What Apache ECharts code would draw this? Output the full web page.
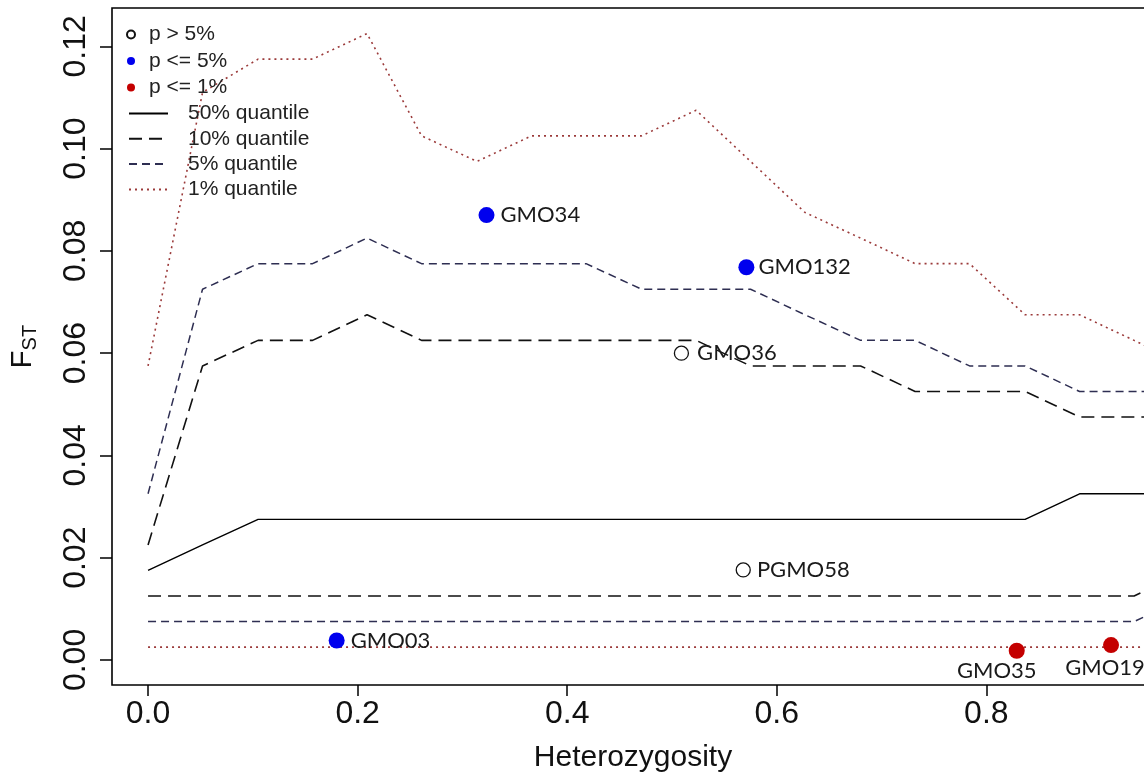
<!DOCTYPE html>
<html>
<head>
<meta charset="utf-8">
<title>FST outlier test</title>
<script src="https://cdn.jsdelivr.net/npm/echarts@6/dist/echarts.min.js"></script>
<style>
  html, body { margin: 0; padding: 0; background: #fff; }
  #chart { width: 1144px; height: 773px; }
</style>
</head>
<body>
<div id="chart"></div>
<script>
// Heterozygosity bins where the simulated FST quantiles were evaluated
const hetBins = [0, 0.052, 0.105, 0.157, 0.209, 0.261, 0.314, 0.366, 0.418, 0.471,
                 0.523, 0.575, 0.627, 0.680, 0.732, 0.784, 0.837, 0.889, 0.941, 0.993];

// Upper quantile envelopes
const q50Upper = [0.0175, 0.0225, 0.0275, 0.0275, 0.0275, 0.0275, 0.0275, 0.0275, 0.0275, 0.0275,
                  0.0275, 0.0275, 0.0275, 0.0275, 0.0275, 0.0275, 0.0275, 0.0325, 0.0325, 0.0325];
const q10Upper = [0.0225, 0.0575, 0.0625, 0.0625, 0.0675, 0.0625, 0.0625, 0.0625, 0.0625, 0.0625,
                  0.0625, 0.0575, 0.0575, 0.0575, 0.0525, 0.0525, 0.0525, 0.0475, 0.0475, 0.0475];
const q5Upper  = [0.0325, 0.0725, 0.0775, 0.0775, 0.0825, 0.0775, 0.0775, 0.0775, 0.0775, 0.0725,
                  0.0725, 0.0725, 0.0675, 0.0625, 0.0625, 0.0575, 0.0575, 0.0525, 0.0525, 0.0525];
const q1Upper  = [0.0575, 0.1110, 0.1175, 0.1175, 0.1225, 0.1025, 0.0975, 0.1025, 0.1025, 0.1025,
                  0.1075, 0.0975, 0.0875, 0.0825, 0.0775, 0.0775, 0.0675, 0.0675, 0.0625, 0.0575];

// Lower quantile envelopes
const q10Lower = [0.0125, 0.0125, 0.0125, 0.0125, 0.0125, 0.0125, 0.0125, 0.0125, 0.0125, 0.0125,
                  0.0125, 0.0125, 0.0125, 0.0125, 0.0125, 0.0125, 0.0125, 0.0125, 0.0125, 0.0175];
const q5Lower  = [0.0075, 0.0075, 0.0075, 0.0075, 0.0075, 0.0075, 0.0075, 0.0075, 0.0075, 0.0075,
                  0.0075, 0.0075, 0.0075, 0.0075, 0.0075, 0.0075, 0.0075, 0.0075, 0.0075, 0.0125];
const q1Lower  = [0.0025, 0.0025, 0.0025, 0.0025, 0.0025, 0.0025, 0.0025, 0.0025, 0.0025, 0.0025,
                  0.0025, 0.0025, 0.0025, 0.0025, 0.0025, 0.0025, 0.0025, 0.0025, 0.0025, 0.0025];

// Observed loci
const lociNames = ['GMO34', 'GMO132', 'GMO36', 'PGMO58', 'GMO03', 'GMO35', 'GMO19'];
const lociHet   = [0.323, 0.571, 0.509, 0.568, 0.180, 0.829, 0.919];
const lociFst   = [0.0870, 0.0768, 0.0600, 0.0176, 0.0038, 0.0018, 0.0029];
const lociClass = ['p <= 5%', 'p <= 5%', 'p > 5%', 'p > 5%', 'p <= 5%', 'p <= 1%', 'p <= 1%'];

// Axis ticks
const xTicks = [0, 0.2, 0.4, 0.6, 0.8];
const yTicks = [0, 0.02, 0.04, 0.06, 0.08, 0.10, 0.12];

const SANS = '"Liberation Sans", Arial, sans-serif';
const LABEL_FONT = 'Lato, "Open Sans", sans-serif';

// where each locus name sits relative to its point
const labelPlacement = {
  GMO35: { position: 'bottom', distance: 1, offset: [-20, 0] },
  GMO19: { position: 'bottom', distance: 4, offset: [-6, 0] },
  GMO36: { position: 'right', distance: 8 },
  GMO132: { position: 'right', distance: 4 },
  default: { position: 'right', distance: 6 }
};

function pairs(xs, ys) { return xs.map((x, i) => [x, ys[i]]); }

function lociOf(cls) {
  const out = [];
  lociNames.forEach((n, i) => {
    if (lociClass[i] !== cls) return;
    const p = labelPlacement[n] || labelPlacement.default;
    out.push({ name: n, value: [lociHet[i], lociFst[i]], label: Object.assign({}, p) });
  });
  return out;
}

const pointLabel = {
  show: true,
  formatter: '{b}',
  fontFamily: LABEL_FONT,
  fontSize: 22,
  color: '#1a1a1a'
};

const quantiles = [
  { name: '50% quantile', upper: q50Upper, lower: null, color: '#000000', type: 'solid', width: 1.4 },
  { name: '10% quantile', upper: q10Upper, lower: q10Lower, color: '#111111', type: [13, 7], width: 1.6 },
  { name: '5% quantile',  upper: q5Upper,  lower: q5Lower,  color: '#2e2e52', type: [8, 5], width: 1.5 },
  { name: '1% quantile',  upper: q1Upper,  lower: q1Lower,  color: '#9b3a3a', type: [2, 4], width: 1.6 }
];

const series = [];
quantiles.forEach(q => {
  const base = {
    type: 'line',
    name: q.name,
    symbol: 'none',
    smooth: false,
    clip: true,
    silent: true,
    z: 2,
    lineStyle: { color: q.color, type: q.type, width: q.width },
    itemStyle: { color: q.color }
  };
  series.push(Object.assign({}, base, { data: pairs(hetBins, q.upper) }));
  if (q.lower) series.push(Object.assign({}, base, { data: pairs(hetBins, q.lower) }));
});

series.push({
  type: 'scatter', name: 'p > 5%', symbol: 'circle', symbolSize: 14, z: 5,
  itemStyle: { color: 'rgba(255,255,255,0)', borderColor: '#111', borderWidth: 1.3, opacity: 1 },
  label: pointLabel, data: lociOf('p > 5%')
});
series.push({
  type: 'scatter', name: 'p <= 5%', symbol: 'circle', symbolSize: 16, z: 5,
  itemStyle: { color: '#0000ee', opacity: 1 },
  label: pointLabel, data: lociOf('p <= 5%')
});
series.push({
  type: 'scatter', name: 'p <= 1%', symbol: 'circle', symbolSize: 16, z: 5,
  itemStyle: { color: '#c40000', opacity: 1 },
  label: pointLabel, data: lociOf('p <= 1%')
});

const legendText = { fontFamily: SANS, fontSize: 21, color: '#222' };

const option = {
  animation: false,
  backgroundColor: '#ffffff',
  grid: {
    left: 112, top: 8, width: 1042, height: 677,
    outerBoundsMode: 'none',
    containLabel: false,
    show: true, borderColor: '#000', borderWidth: 1.6, backgroundColor: 'transparent'
  },
  legend: [
    {
      data: ['p > 5%', 'p <= 5%', 'p <= 1%'],
      orient: 'vertical', left: 126, top: 24, padding: 0,
      itemWidth: 8, itemHeight: 8, itemGap: 5.5,
      selectedMode: false,
      textStyle: Object.assign({ padding: [0, 0, 0, 9] }, legendText)
    },
    {
      data: ['50% quantile', '10% quantile', '5% quantile', '1% quantile'],
      orient: 'vertical', left: 128, top: 103, padding: 0,
      itemWidth: 39, itemHeight: 14, itemGap: 4.3,
      selectedMode: false,
      itemStyle: { color: 'rgba(0,0,0,0)', borderWidth: 0, opacity: 0 },
      textStyle: Object.assign({ padding: [0, 0, 0, 15] }, legendText)
    }
  ],
  xAxis: {
    type: 'value',
    min: -0.0344, max: 0.960,
    name: 'Heterozygosity',
    nameLocation: 'middle',
    nameGap: 58,
    nameTextStyle: { fontFamily: SANS, fontSize: 30, color: '#111' },
    axisLine: { show: false, onZero: false },
    splitLine: { show: false },
    axisTick: { show: true, length: 11, customValues: xTicks, lineStyle: { color: '#000', width: 1.5 } },
    axisLabel: {
      customValues: xTicks, margin: 13,
      formatter: v => v.toFixed(1),
      fontFamily: SANS, fontSize: 32, color: '#111'
    }
  },
  yAxis: {
    type: 'value',
    min: -0.0049, max: 0.1275,
    name: '{f|F}{s|ST}',
    nameLocation: 'middle',
    nameRotate: 90,
    nameGap: 72,
    nameTextStyle: {
      fontFamily: SANS, color: '#111',
      rich: {
        f: { fontFamily: SANS, fontSize: 29, lineHeight: 32, verticalAlign: 'top', color: '#111' },
        s: { fontFamily: SANS, fontSize: 20, lineHeight: 32, verticalAlign: 'bottom', color: '#111' }
      }
    },
    axisLine: { show: false, onZero: false },
    splitLine: { show: false },
    axisTick: { show: true, length: 12, customValues: yTicks, lineStyle: { color: '#000', width: 1.5 } },
    axisLabel: {
      customValues: yTicks, margin: 20, rotate: 90,
      formatter: v => v.toFixed(2),
      fontFamily: SANS, fontSize: 32, color: '#111'
    }
  },
  series: series
};

const chart = echarts.init(document.getElementById('chart'), null, { renderer: 'canvas' });
chart.setOption(option);
</script>
</body>
</html>
